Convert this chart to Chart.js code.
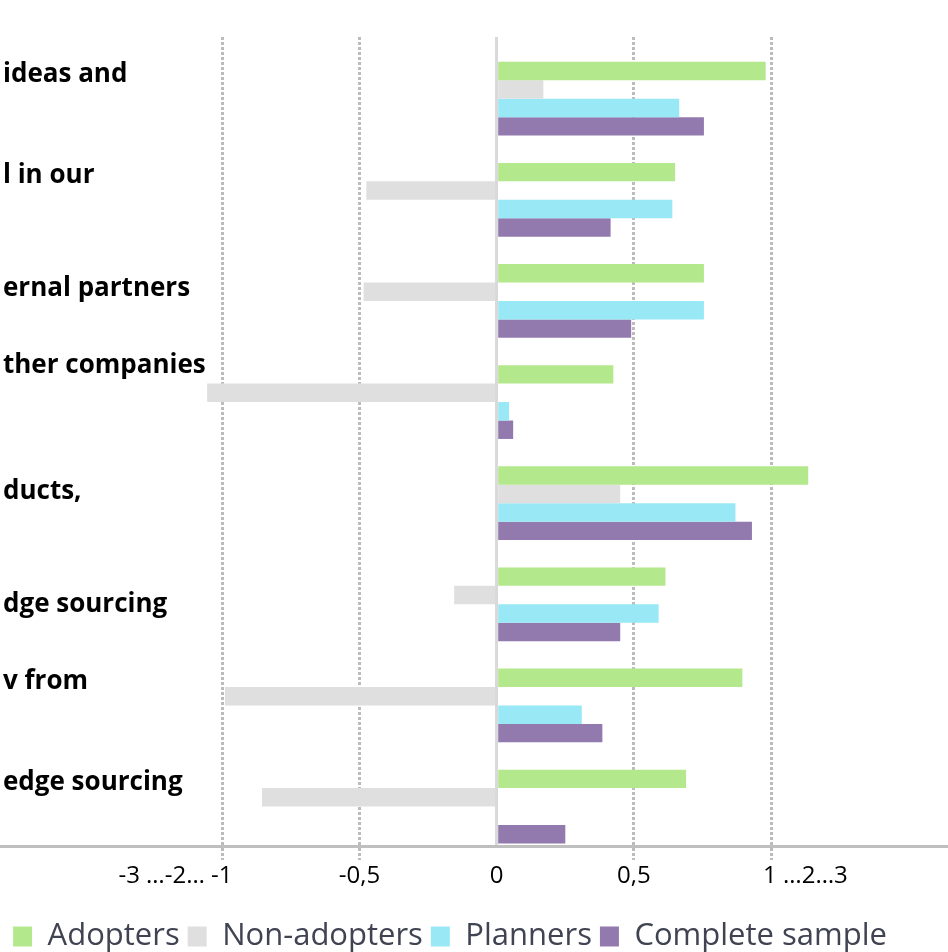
<!DOCTYPE html>
<html>
<head>
<meta charset="utf-8">
<title>Open innovation practices</title>
<script src="https://cdn.jsdelivr.net/npm/chart.js@4.4.1/dist/chart.umd.min.js"></script>
<style>
  html, body { margin: 0; padding: 0; background: #fff; overflow: hidden; }
  body { width: 948px; height: 952px; position: relative; }
  #chart { position: absolute; left: -48px; top: 0; }
</style>
</head>
<body>
<canvas id="chart" width="996" height="962"></canvas>
<script>
// row labels (wrapped rows keep their extra lines so the first line sits high)
const categories = [
  ['ideas and', '', ''],
  ['l in our', '', ''],
  ['ernal partners', ''],
  ['ther companies', '', '', ''],
  ['ducts,', ''],
  'dge sourcing',
  ['v from', '', ''],
  ['edge sourcing', '', '']
];

const adopters       = [0.98, 0.65, 0.755, 0.425, 1.135, 0.615, 0.895, 0.69];
const nonAdopters    = [0.17, -0.475, -0.485, -1.055, 0.45, -0.155, -0.99, -0.855];
const planners       = [0.665, 0.64, 0.755, 0.045, 0.87, 0.59, 0.31, 0];
const completeSample = [0.755, 0.415, 0.49, 0.06, 0.93, 0.45, 0.385, 0.25];

const xTicks = [-1, -0.5, 0, 0.5, 1];
const xTickLabels = ['-3 …-2… -1', '-0,5', '0', '0,5', '1 …2…3'];

const X_MIN = -1.8097;
const X_MAX = 1.6443;

Chart.defaults.font.family = "'Open Sans', sans-serif";

// broken-axis labels are centred on their "-1" / "1" part, so pad with spaces
const probe = document.createElement('canvas').getContext('2d');
probe.font = '24px "Open Sans"';
const spaceWidth = probe.measureText(' ').width;
const fill = s => ' '.repeat(Math.round(probe.measureText(s).width / spaceWidth));
const xLabelText = xTickLabels.map((t, i) => {
  if (i === 0) return t + fill(t.slice(0, t.lastIndexOf(' ') + 1));
  if (i === xTickLabels.length - 1) return fill(t.slice(t.indexOf(' '))) + t;
  return t;
});

const toPoints = values => values.map((v, i) => ({ x: v, y: i }));

new Chart(document.getElementById('chart'), {
  type: 'bar',
  data: {
    datasets: [
      { label: 'Adopters', data: toPoints(adopters), backgroundColor: '#b4e88c' },
      { label: 'Non-adopters', data: toPoints(nonAdopters), backgroundColor: '#dfdfdf' },
      { label: 'Planners', data: toPoints(planners), backgroundColor: '#98e8f5' },
      { label: 'Complete sample', data: toPoints(completeSample), backgroundColor: '#927aaf' }
    ]
  },
  options: {
    indexAxis: 'y',
    responsive: false,
    animation: false,
    events: [],
    layout: { padding: { top: 37, left: 0, right: 0, bottom: 0 } },
    datasets: {
      bar: { categoryPercentage: 0.73, barPercentage: 1, borderWidth: 0 }
    },
    scales: {
      x: {
        type: 'linear',
        position: 'bottom',
        min: X_MIN,
        max: X_MAX,
        afterBuildTicks: s => { s.ticks = xTicks.map(v => ({ value: v })); },
        afterFit: s => { s.height += 21; },
        grid: {
          color: c => (c.tick && c.tick.value === 0) ? 'rgba(0,0,0,0)' : '#bcbcbc',
          lineWidth: 3,
          drawTicks: true,
          tickLength: 14,
          tickBorderDash: [3, 2]
        },
        border: { display: true, color: '#bfbfbf', width: 3, dash: [3, 2] },
        ticks: {
          padding: 1,
          color: '#000',
          maxRotation: 0,
          autoSkip: false,
          font: { size: 24, lineHeight: '30px' },
          callback: (v, i) => xLabelText[i]
        }
      },
      // solid line at zero
      x2: {
        type: 'linear',
        position: 'bottom',
        min: X_MIN,
        max: X_MAX,
        afterBuildTicks: s => { s.ticks = [{ value: 0 }]; },
        grid: { color: '#d9d9d9', lineWidth: 3, drawTicks: false },
        border: { display: false },
        ticks: { display: false }
      },
      y: {
        type: 'linear',
        reverse: true,
        offset: false,
        min: -0.61,
        max: 7.39,
        afterBuildTicks: s => { s.ticks = categories.map((c, i) => ({ value: i })); },
        afterFit: s => { s.width = 48; s.paddingTop = 0; s.paddingBottom = 0; },
        grid: { display: false, drawTicks: false },
        border: { display: false },
        ticks: {
          mirror: true,
          padding: 3,
          color: '#000',
          autoSkip: false,
          font: { size: 26, weight: 'bold', lineHeight: '24px' },
          callback: (v, i) => categories[i]
        }
      }
    },
    plugins: {
      tooltip: { enabled: false },
      legend: {
        position: 'bottom',
        labels: {
          boxWidth: 19,
          boxHeight: 20,
          padding: 8,
          color: '#404452',
          font: { size: 31 }
        }
      }
    }
  }
});
</script>
</body>
</html>
